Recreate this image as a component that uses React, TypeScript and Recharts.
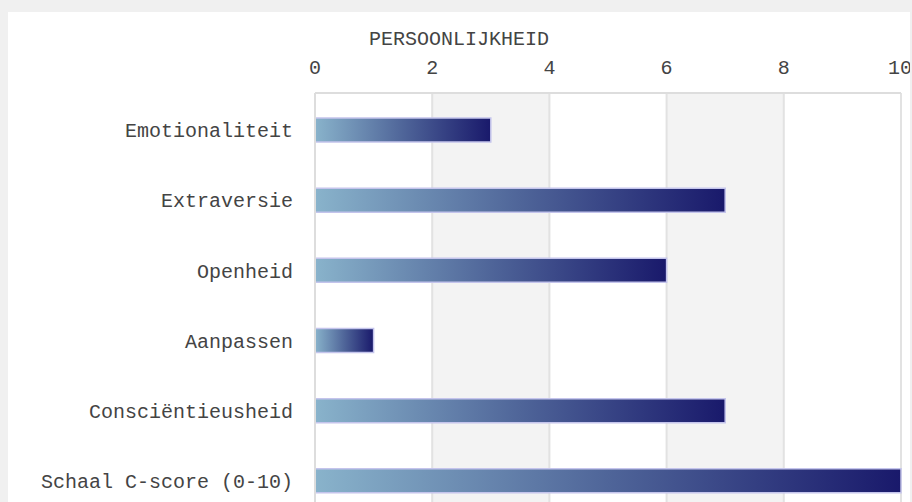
import { BarChart, Bar, XAxis, YAxis, CartesianGrid } from 'recharts';

const categories = [
  'Emotionaliteit',
  'Extraversie',
  'Openheid',
  'Aanpassen',
  'Consciëntieusheid',
  'Schaal C-score (0-10)',
];
const scores = [3, 7, 6, 1, 7, 10];
const xTicks = [0, 2, 4, 6, 8, 10];

const data = categories.map((name, i) => ({ name, score: scores[i] }));

const font = "'Liberation Mono', 'DejaVu Sans Mono', monospace";

export default function App() {
  return (
    <div style={{ position: 'relative', width: 912, height: 502, background: '#f0f0f0', overflow: 'hidden' }}>
      <style>{'body{margin:0}'}</style>
      <div style={{ position: 'absolute', left: 8, top: 12, width: 902, height: 520, background: '#fff' }}>
        <div
          style={{
            position: 'absolute',
            top: 16,
            left: 0,
            width: 902,
            textAlign: 'center',
            fontFamily: font,
            fontSize: 20,
            color: '#444',
          }}
        >
          PERSOONLIJKHEID
        </div>
        <BarChart
          width={902}
          height={510}
          data={data}
          layout="vertical"
          barSize={24}
          margin={{ top: 0, right: 9, bottom: 6, left: 0 }}
        >
          <defs>
            <linearGradient id="barGrad" x1="0" y1="0" x2="1" y2="0">
              <stop offset="0%" stopColor="#89b3cb" />
              <stop offset="50%" stopColor="#4f6599" />
              <stop offset="100%" stopColor="#19196b" />
            </linearGradient>
          </defs>
          <CartesianGrid
            horizontal={false}
            stroke="#e2e2e2"
            strokeWidth={2}
            verticalFill={['#ffffff', '#f3f3f3']}
          />
          <XAxis
            type="number"
            orientation="top"
            domain={[0, 10]}
            ticks={xTicks}
            height={81}
            tickSize={0}
            tickMargin={19}
            axisLine={{ stroke: '#dddddd', strokeWidth: 2 }}
            tick={{ fontFamily: font, fontSize: 20, fill: '#444' }}
          />
          <YAxis
            type="category"
            dataKey="name"
            width={307}
            padding={{ top: 2, bottom: 0 }}
            tickSize={0}
            tickMargin={22}
            axisLine={{ stroke: '#dddddd', strokeWidth: 2 }}
            tick={{ fontFamily: font, fontSize: 20, fill: '#444' }}
          />
          <Bar
            dataKey="score"
            fill="url(#barGrad)"
            stroke="#c4c4ec"
            strokeWidth={1.5}
            isAnimationActive={false}
          />
        </BarChart>
      </div>
    </div>
  );
}
